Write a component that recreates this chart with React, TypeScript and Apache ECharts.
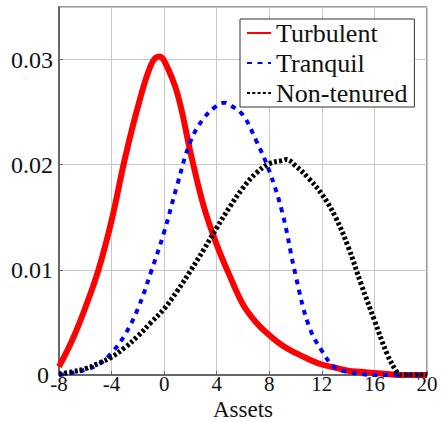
import React, { useEffect, useRef } from "react";
import * as echarts from "echarts";

const xTicks = { min: -8, max: 20, interval: 4 };
const yTicks = { min: 0, max: 0.035, interval: 0.01 };

const turbulentX = [-8, -7, -6, -5, -4, -3, -2, -1, -0.4, 0, 1, 2, 3, 4, 5, 6, 7, 8, 9, 10, 11, 12, 13, 14, 15, 16, 17, 18, 20];
const turbulentY = [0.0008, 0.0033, 0.0064, 0.01, 0.0147, 0.0205, 0.0255, 0.0295, 0.0303, 0.0299, 0.0268, 0.0212, 0.0161, 0.0124, 0.0094, 0.0067, 0.005, 0.0038, 0.0028, 0.0021, 0.0015, 0.001, 0.0007, 0.0004, 0.0003, 0.0002, 0.0001, 0, 0];

const tranquilX = [-8, -7, -6, -5, -4, -3, -2, -1, 0, 1, 2, 3, 4, 4.6, 5, 6, 7, 8, 9, 10, 11, 12, 13, 14, 15, 16, 20];
const tranquilY = [0, 0.0002, 0.0005, 0.001, 0.0021, 0.0038, 0.0063, 0.0098, 0.0136, 0.0181, 0.0222, 0.0244, 0.0256, 0.0259, 0.0257, 0.0247, 0.0223, 0.0194, 0.0154, 0.0095, 0.0047, 0.0023, 0.0007, 0.0003, 0.0001, 0, 0];

const nonTenuredX = [-8, -7, -6, -5, -4, -3, -2, -1, 0, 1, 2, 3, 4, 5, 6, 7, 8, 9, 9.3, 10, 11, 12, 13, 14, 15, 16, 17, 17.7, 18, 20];
const nonTenuredY = [0.0001, 0.0003, 0.0006, 0.0011, 0.0017, 0.0026, 0.0037, 0.005, 0.0063, 0.008, 0.0099, 0.0119, 0.014, 0.016, 0.0178, 0.0192, 0.0201, 0.0204, 0.0205, 0.0199, 0.0187, 0.0172, 0.0151, 0.0122, 0.0086, 0.0052, 0.0019, 0.0003, 0, 0];

const seriesNames = ["Turbulent", "Tranquil", "Non-tenured"];
const xName = "Assets";

const zip = (xs: number[], ys: number[]) => xs.map((x, i) => [x, ys[i]]);

const FONT = "'Liberation Serif', 'DejaVu Serif', serif";

export default function App() {
  const ref = useRef<HTMLDivElement>(null);
  useEffect(() => {
    if (!ref.current) return;
    const chart = echarts.init(ref.current, undefined, { renderer: "svg" });
    chart.setOption({
      animation: false,
      backgroundColor: "#fff",
      textStyle: { fontFamily: FONT },
      grid: {
        left: 59,
        right: 15,
        top: 7,
        bottom: 47,
        containLabel: false,
        outerBoundsMode: "none",
        show: true,
        borderColor: "#333",
        borderWidth: 1,
      },
      legend: {
        left: 240,
        top: 19,
        orient: "vertical",
        data: seriesNames,
        itemWidth: 24,
        itemHeight: 14,
        itemGap: 4,
        padding: [1, 7, 1, 6],
        backgroundColor: "#fff",
        borderColor: "#333",
        borderWidth: 1,
        borderRadius: 0,
        itemStyle: { opacity: 0 },
        textStyle: { fontFamily: FONT, fontSize: 26, color: "#111", lineHeight: 24 },
      },
      xAxis: {
        type: "value",
        min: xTicks.min,
        max: xTicks.max,
        interval: xTicks.interval,
        name: xName,
        nameLocation: "middle",
        nameGap: 25,
        nameMoveOverlap: false,
        nameTextStyle: { fontFamily: FONT, fontSize: 23, color: "#111", lineHeight: 18, verticalAlign: "top" },
        axisLine: { show: true, onZero: false, lineStyle: { color: "#666", width: 2 } },
        axisTick: { show: true, inside: true, length: 4, lineStyle: { color: "#666" } },
        axisLabel: {
          fontFamily: FONT,
          fontSize: 21,
          color: "#111",
          margin: 1,
          lineHeight: 16,
          formatter: (v: number) => String(v),
        },
        splitLine: { show: true, lineStyle: { color: "#c8c8c8", width: 1 } },
      },
      yAxis: {
        type: "value",
        min: yTicks.min,
        max: yTicks.max,
        interval: yTicks.interval,
        axisLine: { show: true, onZero: false, lineStyle: { color: "#666", width: 2 } },
        axisTick: { show: true, inside: true, length: 4, lineStyle: { color: "#666" } },
        axisLabel: {
          fontFamily: FONT,
          fontSize: 24,
          color: "#111",
          margin: 6,
          lineHeight: 12,
          showMaxLabel: false,
          formatter: (v: number) => (v === 0 ? "{z|0}" : v.toFixed(2)),
          rich: {
            z: { fontFamily: FONT, fontSize: 24, color: "#111", lineHeight: 12, padding: [0, 4, 0, 0] },
          },
        },
        splitLine: { show: true, lineStyle: { color: "#c8c8c8", width: 1 } },
      },
      series: [
        {
          name: seriesNames[0],
          type: "line",
          data: zip(turbulentX, turbulentY),
          smooth: 0.4,
          symbol: "none",
          lineStyle: { color: "#ff0000", width: 6, type: "solid" },
          itemStyle: { color: "#ff0000" },
          z: 3,
        },
        {
          name: seriesNames[1],
          type: "line",
          data: zip(tranquilX, tranquilY),
          smooth: 0.4,
          symbol: "none",
          lineStyle: { color: "#0000ff", width: 4, type: [5, 5.5] },
          itemStyle: { color: "#0000ff" },
          z: 4,
        },
        {
          name: seriesNames[2],
          type: "line",
          data: zip(nonTenuredX, nonTenuredY),
          smooth: 0.4,
          symbol: "none",
          lineStyle: { color: "#000000", width: 5, type: [3, 2.3] },
          itemStyle: { color: "#000000" },
          z: 5,
        },
      ],
    });
    return () => chart.dispose();
  }, []);
  return <div ref={ref} style={{ width: 442, height: 422, position: "absolute", left: 0, top: 0 }} />;
}
